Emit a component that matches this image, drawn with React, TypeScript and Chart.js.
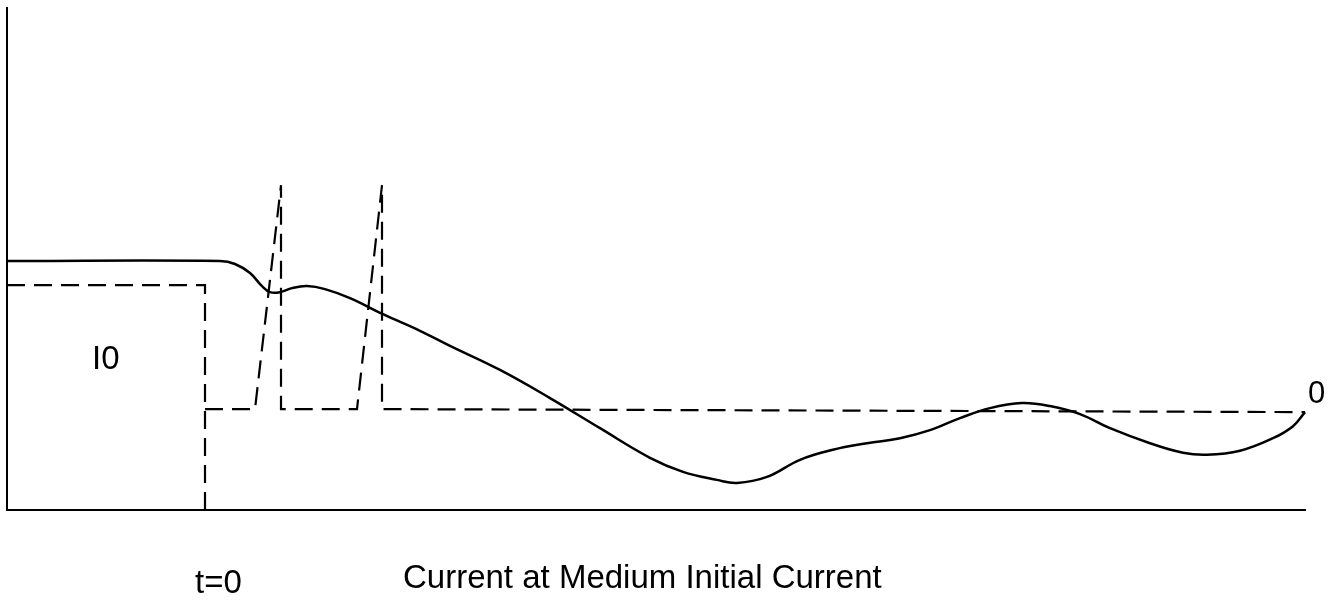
import React, { useEffect, useRef } from "react";
import { Chart, registerables } from "chart.js";

Chart.register(...registerables);

// Solid curve: actual current (time units, current units)
const solidX = [0, 21.3, 22.8, 24.3, 25.5, 26.3, 27.3, 28.5, 30.0, 31.8, 34.3, 37.6, 41.3, 44.3, 49.3, 54.3, 59.3, 64.3, 67.6, 71.0, 73.0, 76.0, 79.3, 82.6, 86.0, 89.3, 92.3, 95.3, 98.3, 101.5, 104.3, 107.3, 110.3, 114.3, 117.6, 120.0, 123.3, 126.6, 128.6, 129.8];
const solidY = [49.6, 49.6, 49.0, 47.2, 44.6, 43.4, 43.4, 44.2, 44.6, 44.0, 42.2, 39.0, 35.7, 32.7, 27.9, 22.3, 16.3, 10.4, 7.6, 6.0, 5.4, 6.6, 10.0, 12.0, 13.3, 14.3, 15.9, 18.3, 20.3, 21.3, 20.7, 19.1, 16.3, 13.3, 11.4, 11.0, 11.8, 14.3, 16.7, 19.5];

// Dashed command: before t=0
const preX = [0, 19.8, 19.8];
const preY = [44.8, 44.8, 0];

// Dashed command: after t=0 (with pulses)
const postX = [19.8, 24.8, 27.4, 27.4, 35.0, 37.5, 37.5, 129.8];
const postY = [20.1, 20.1, 64.7, 20.1, 20.1, 64.7, 20.1, 19.5];

const levelLabel = "I0";
const zeroLabel = "0";
const tZeroLabel = "t=0";
const captionText = "Current at Medium Initial Current";

const toPoints = (xs: number[], ys: number[]) => xs.map((x, i) => ({ x, y: ys[i] }));

export default function App() {
  const ref = useRef<HTMLCanvasElement | null>(null);

  useEffect(() => {
    document.body.style.margin = "0";
    const canvas = ref.current;
    if (!canvas) return;

    const textPlugin = {
      id: "texts",
      afterDraw(chart: any) {
        const ctx = chart.ctx;
        ctx.save();
        ctx.fillStyle = "#000";
        ctx.textBaseline = "alphabetic";
        ctx.textAlign = "left";
        ctx.font = "33px 'Liberation Sans', Arial, sans-serif";
        ctx.fillText(levelLabel, 92, 369);
        ctx.fillText(tZeroLabel, 195, 593);
        ctx.fillText(captionText, 403, 588);
        ctx.font = "31px 'Liberation Sans', Arial, sans-serif";
        ctx.fillText(zeroLabel, 1308, 403);
        ctx.restore();
      },
    };

    const chart = new Chart(canvas, {
      type: "line",
      data: {
        datasets: [
          {
            label: "Current",
            data: toPoints(solidX, solidY),
            borderColor: "#000",
            borderWidth: 2.5,
            pointRadius: 0,
            tension: 0.4,
            fill: false,
          },
          {
            label: "Command before",
            data: toPoints(preX, preY),
            borderColor: "#000",
            borderWidth: 2.2,
            borderDash: [18, 9],
            pointRadius: 0,
            tension: 0,
            fill: false,
          },
          {
            label: "Command after",
            data: toPoints(postX, postY),
            borderColor: "#000",
            borderWidth: 2.2,
            borderDash: [18, 9],
            pointRadius: 0,
            tension: 0,
            fill: false,
          },
        ],
      },
      options: {
        animation: false,
        responsive: false,
        maintainAspectRatio: false,
        clip: false as any,
        layout: { padding: { left: 7, right: 34, top: 8, bottom: 93 } },
        plugins: {
          legend: { display: false },
          tooltip: { enabled: false },
          title: { display: false },
        },
        scales: {
          x: {
            type: "linear",
            min: 0,
            max: 129.8,
            grid: { display: false, drawTicks: false, tickLength: 0 },
            border: { display: true, color: "#000", width: 2 },
            ticks: { display: false, padding: 0 },
          },
          y: {
            type: "linear",
            min: 0,
            max: 100,
            grid: { display: false, drawTicks: false, tickLength: 0 },
            border: { display: true, color: "#000", width: 2 },
            ticks: { display: false, padding: 0 },
          },
        },
      },
      plugins: [textPlugin],
    });

    return () => chart.destroy();
  }, []);

  return (
    <div style={{ width: 1339, height: 603, background: "#fff" }}>
      <canvas ref={ref} width={1339} height={603} style={{ display: "block" }} />
    </div>
  );
}
